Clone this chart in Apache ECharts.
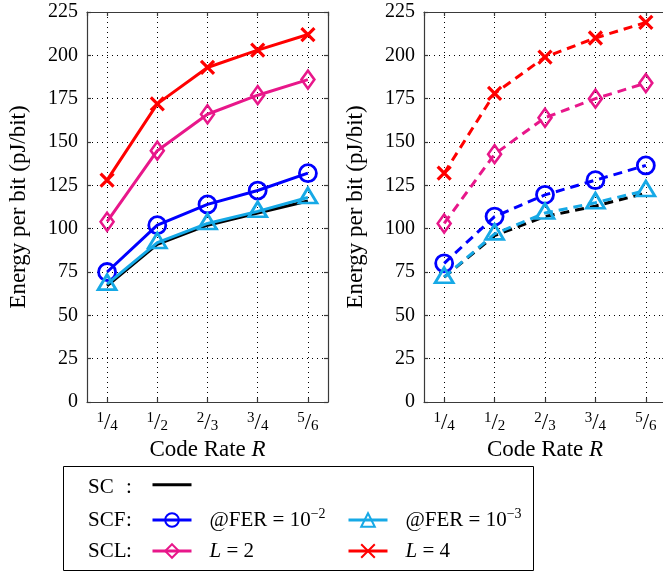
<!DOCTYPE html>
<html>
<head>
<meta charset="utf-8">
<script src="https://cdn.jsdelivr.net/npm/echarts@6/dist/echarts.min.js"></script>
<style>html,body{margin:0;padding:0;background:#fff;}</style>
</head>
<body>
<div id="main" style="width:663px;height:574px;"></div>
<script type="text/javascript">
    // code rates (numerator / denominator of tick labels)
    var rateNum = ['1', '1', '2', '3', '5'];
    var rateDen = ['4', '2', '3', '4', '6'];

    // left panel (solid)
    var scLeft   = [67, 91, 102, 109, 116];
    var scf2Left = [75, 102, 114, 122, 132];
    var scf3Left = [68, 92, 103, 110, 118];
    var scl2Left = [104, 145, 166, 177, 186];
    var scl4Left = [128, 172, 193, 203, 212];

    // right panel (dashed)
    var scRight   = [72, 96, 107, 113, 120.5];
    var scf2Right = [80, 107, 119.5, 128, 136.5];
    var scf3Right = [72, 97, 109, 115, 122];
    var scl2Right = [103, 143, 164, 175, 184];
    var scl4Right = [132, 178, 199, 210, 219];

    var seriesNames = ['SC', 'SCF-2', 'SCF-3', 'SCL-2', 'SCL-4'];
    var legendTexts = ['', '@FER = 10{sup|\u22122}', '@FER = 10{sup|\u22123}', '{i|L} = 2', '{i|L} = 4'];

    var FONT = '"Liberation Serif", "Times New Roman", serif';
    var axisLine = {color: '#3a3a3a', width: 1.2};
    var dots = {type: [1, 4], color: '#000', width: 1};

    var myChart = echarts.init(document.getElementById('main'));

    function fracLabel(v) {
        var i = Math.round(v);
        if (Math.abs(v - i) > 1e-6 || i < 0 || i > 4) return '';
        return '{n|' + rateNum[i] + '}{s|/}{d|' + rateDen[i] + '}';
    }

    function xAxes(g) {
        return [{
            type: 'value', gridIndex: g, min: -0.4, max: 4.4,
            axisLine: {show: true, onZero: false, lineStyle: axisLine},
            axisTick: {show: true, inside: true, length: 4, lineStyle: axisLine},
            axisLabel: {
                formatter: fracLabel, margin: 9, showMinLabel: false, showMaxLabel: false,
                rich: {
                    n: {fontFamily: FONT, fontSize: 15, color: '#000', verticalAlign: 'top', lineHeight: 15},
                    s: {fontFamily: FONT, fontSize: 23, color: '#000', lineHeight: 23},
                    d: {fontFamily: FONT, fontSize: 15, color: '#000', verticalAlign: 'bottom', lineHeight: 15}
                }
            },
            splitLine: {show: true, lineStyle: dots},
            name: 'Code Rate {i|R}', nameLocation: 'middle', nameGap: 36,
            nameTextStyle: {
                fontFamily: FONT, fontSize: 23, color: '#000',
                rich: {i: {fontFamily: FONT, fontSize: 23, fontStyle: 'italic', color: '#000'}}
            }
        }, {
            type: 'value', gridIndex: g, position: 'top', min: -0.4, max: 4.4,
            axisLine: {show: true, onZero: false, lineStyle: axisLine},
            axisTick: {show: true, inside: true, length: 4, lineStyle: axisLine},
            axisLabel: {show: false}, splitLine: {show: false}
        }];
    }

    function yAxes(g) {
        return [{
            type: 'value', gridIndex: g, min: 0, max: 225, interval: 25,
            axisLine: {show: true, onZero: false, lineStyle: axisLine},
            axisTick: {show: true, inside: true, length: 4, lineStyle: axisLine},
            axisLabel: {fontFamily: FONT, fontSize: 20, color: '#000', margin: 9},
            splitLine: {show: true, lineStyle: dots},
            name: 'Energy per bit (pJ/bit)', nameLocation: 'middle', nameGap: 57,
            nameTextStyle: {fontFamily: FONT, fontSize: 23, color: '#000'}
        }, {
            type: 'value', gridIndex: g, position: 'right', min: 0, max: 225, interval: 25,
            axisLine: {show: true, onZero: false, lineStyle: axisLine},
            axisTick: {show: true, inside: true, length: 4, lineStyle: axisLine},
            axisLabel: {show: false}, splitLine: {show: false}
        }];
    }

    var styles = [
        {color: '#000000', symbol: 'none', size: 0},
        {color: '#0000ff', symbol: 'circle', size: 17, bw: 2.8},
        {color: '#16a9e6', symbol: 'triangle', size: [18, 15], bw: 2.8, offset: [0, -2]},
        {color: '#e8178a', symbol: 'diamond', size: [13, 18], bw: 2.6},
        {color: '#ff0000', symbol: 'path://M0,0L10,10M0,10L10,0', size: 13, bw: 3.2}
    ];

    function mk(k, data, axisIdx, dashed) {
        var st = styles[k];
        return {
            name: seriesNames[k], type: 'line',
            xAxisIndex: axisIdx, yAxisIndex: axisIdx,
            data: data.map(function (v, i) { return [i, v]; }),
            symbol: st.symbol, symbolSize: st.size, symbolOffset: st.offset || [0, 0],
            showSymbol: st.symbol !== 'none',
            lineStyle: {color: st.color, width: 3, type: dashed ? [9, 6] : 'solid'},
            itemStyle: {color: 'rgba(255,255,255,0)', borderColor: st.color, borderWidth: st.bw || 0},
            emphasis: {disabled: true},
            z: 2 + k
        };
    }

    var series = [
        mk(0, scLeft, 0, false), mk(1, scf2Left, 0, false), mk(2, scf3Left, 0, false),
        mk(3, scl2Left, 0, false), mk(4, scl4Left, 0, false),
        mk(0, scRight, 2, true), mk(1, scf2Right, 2, true), mk(2, scf3Right, 2, true),
        mk(3, scl2Right, 2, true), mk(4, scl4Right, 2, true)
    ];

    function leg(k, left, top) {
        return {
            data: [seriesNames[k]], left: left, top: top, padding: 0,
            itemWidth: 39, itemHeight: 17, selectedMode: false,
            lineStyle: {width: 3},
            formatter: function () { return legendTexts[k]; },
            textStyle: {
                fontFamily: FONT, fontSize: 21, color: '#000', padding: [0, 0, 0, 13], lineHeight: 26,
                rich: {
                    sup: {fontFamily: FONT, fontSize: 14, color: '#000', verticalAlign: 'top', lineHeight: 14},
                    i: {fontFamily: FONT, fontSize: 21, fontStyle: 'italic', color: '#000', lineHeight: 26}
                }
            }
        };
    }

    function rowText(t, x, y) {
        return {type: 'text', x: x, y: y, style: {text: t, fontFamily: FONT, fontSize: 21, fill: '#000', verticalAlign: 'middle'}};
    }

    var option = {
        animation: false,
        grid: [
            {left: 87, top: 12, width: 241, height: 390, outerBoundsMode: 'none'},
            {left: 424, top: 12, width: 242, height: 390, outerBoundsMode: 'none'}
        ],
        xAxis: xAxes(0).concat(xAxes(1)),
        yAxis: yAxes(0).concat(yAxes(1)),
        legend: [
            leg(0, 151, 478),
            leg(1, 151, 507), leg(2, 347, 507),
            leg(3, 151, 538), leg(4, 347, 538)
        ],
        graphic: [
            {type: 'rect', shape: {x: 63.5, y: 466.5, width: 470, height: 104}, style: {fill: 'none', stroke: '#000', lineWidth: 1}},
            rowText('SC', 88, 487), rowText(':', 126, 487),
            rowText('SCF', 88, 520), rowText(':', 126, 520),
            rowText('SCL', 88, 551), rowText(':', 126, 551)
        ],
        series: series
    };

    myChart.setOption(option);
</script>
</body>
</html>
